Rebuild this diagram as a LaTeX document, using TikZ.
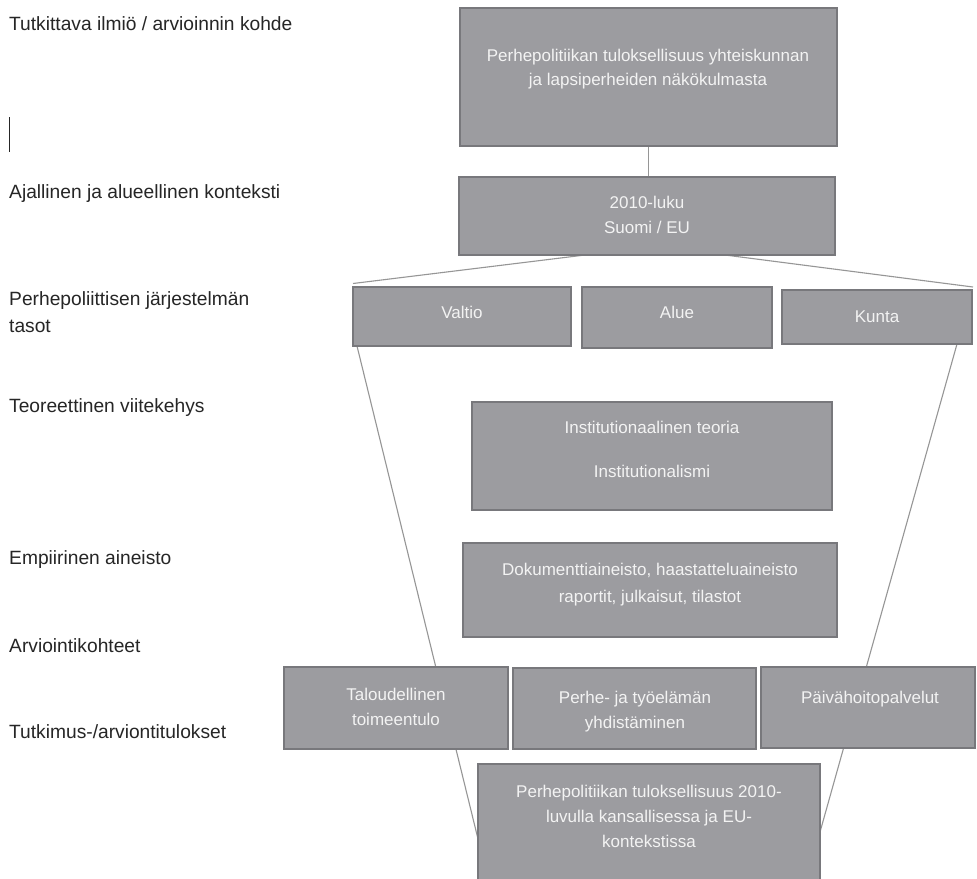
\documentclass[tikz,border=0pt]{standalone}
\usepackage{fontspec}
\setmainfont{Liberation Sans}
\usetikzlibrary{backgrounds}
\definecolor{boxfill}{RGB}{156,156,160}
\definecolor{boxdraw}{RGB}{120,120,124}
\definecolor{boxtxt}{RGB}{243,243,243}
\definecolor{linegray}{RGB}{150,150,150}
\definecolor{labeltxt}{RGB}{38,38,38}
\newcommand{\ctab}[1]{\begin{tabular}[t]{@{}c@{}}#1\end{tabular}}
\newcommand{\ltab}[1]{\begin{tabular}[t]{@{}l@{}}#1\end{tabular}}
\begin{document}
\begin{tikzpicture}[x=1pt,y=-1pt,
  box/.style={draw=boxdraw, fill=boxfill, line width=1.8pt, rectangle, inner sep=0pt},
  btext/.style={anchor=base, inner sep=0pt, text=boxtxt, font=\fontsize{17}{25}\selectfont},
  ltext/.style={anchor=base west, inner sep=0pt, text=labeltxt, font=\fontsize{19.2}{27}\selectfont},
  conn/.style={draw=linegray, line width=1.1pt}]
\useasboundingbox (0,0) rectangle (977,878);

% left labels
\node[ltext] (l1) at (9,30) {Tutkittava ilmiö / arvioinnin kohde};
\node[ltext] (l2) at (9,198) {Ajallinen ja alueellinen konteksti};
\node[ltext] (l3) at (9,305) {\ltab{Perhepoliittisen järjestelmän\\tasot}};
\node[ltext] (l4) at (9,412) {Teoreettinen viitekehys};
\node[ltext] (l5) at (9,564) {Empiirinen aineisto};
\node[ltext] (l6) at (9,652) {Arviointikohteet};
\node[ltext] (l7) at (9,738) {Tutkimus-/arviontitulokset};
\coordinate (cur1) at (9.8,117);
\coordinate (cur2) at (9.8,152);
\draw[line width=1pt, labeltxt] (cur1) -- (cur2);

% boxes
\node[box, minimum width=377pt, minimum height=138pt] (b1) at (648.5,77) {};
\node[box, minimum width=376pt, minimum height=78pt] (b2) at (647,216) {};
\node[box, minimum width=218pt, minimum height=59pt] (valtio) at (462,316.5) {};
\node[box, minimum width=190pt, minimum height=61pt] (alue) at (677,317.5) {};
\node[box, minimum width=190pt, minimum height=54pt] (kunta) at (877,317) {};
\node[box, minimum width=360pt, minimum height=108pt] (inst) at (652,456) {};
\node[box, minimum width=374pt, minimum height=94pt] (emp) at (650,590) {};
\node[box, minimum width=224pt, minimum height=82pt] (talo) at (396,708) {};
\node[box, minimum width=243pt, minimum height=81pt] (perhe) at (634.5,708.5) {};
\node[box, minimum width=214pt, minimum height=81pt] (paiva) at (868,707.5) {};
\node[box, minimum width=342pt, minimum height=124pt] (res) at (649,826) {};

% box texts
\node[btext, font=\fontsize{17}{24}\selectfont] (b1t) at (648,61) {\ctab{Perhepolitiikan tuloksellisuus yhteiskunnan\\ja lapsiperheiden näkökulmasta}};
\node[btext] (b2t) at (647,208) {\ctab{2010-luku\\Suomi / EU}};
\node[btext] (valtiot) at (462,318) {Valtio};
\node[btext] (aluet) at (677,318) {Alue};
\node[btext] (kuntat) at (877,322) {Kunta};
\node[btext, font=\fontsize{17}{44}\selectfont] (instt) at (652,433) {\ctab{Institutionaalinen teoria\\Institutionalismi}};
\node[btext, font=\fontsize{17}{27}\selectfont] (empt) at (650,575) {\ctab{Dokumenttiaineisto, haastatteluaineisto\\raportit, julkaisut, tilastot}};
\node[btext] (talot) at (396,700) {\ctab{Taloudellinen\\toimeentulo}};
\node[btext] (perhet) at (635,703) {\ctab{Perhe- ja työelämän\\yhdistäminen}};
\node[btext] (paivat) at (870,703) {Päivähoitopalvelut};
\node[btext] (rest) at (649,797) {\ctab{Perhepolitiikan tuloksellisuus 2010-\\luvulla kansallisessa ja EU-\\kontekstissa}};

% connectors behind boxes
\coordinate (fl1) at (585,255);
\coordinate (fl2) at (353,283.5);
\coordinate (fr1) at (725,255);
\coordinate (fr2) at (973,287);
\coordinate (ll1) at (357,346);
\coordinate (ll2) at (479,843);
\coordinate (rl1) at (957,344);
\coordinate (rl2) at (820,832);
\begin{scope}[on background layer]
\fill[white] (0,0) rectangle (977,878);
\draw[conn] (b1.south) -- (b1.south |- b2.north);
\draw[conn] (fl1) -- (fl2);
\draw[conn] (fr1) -- (fr2);
\draw[conn] (ll1) -- (ll2);
\draw[conn] (rl1) -- (rl2);
\end{scope}
\end{tikzpicture}
\end{document}
